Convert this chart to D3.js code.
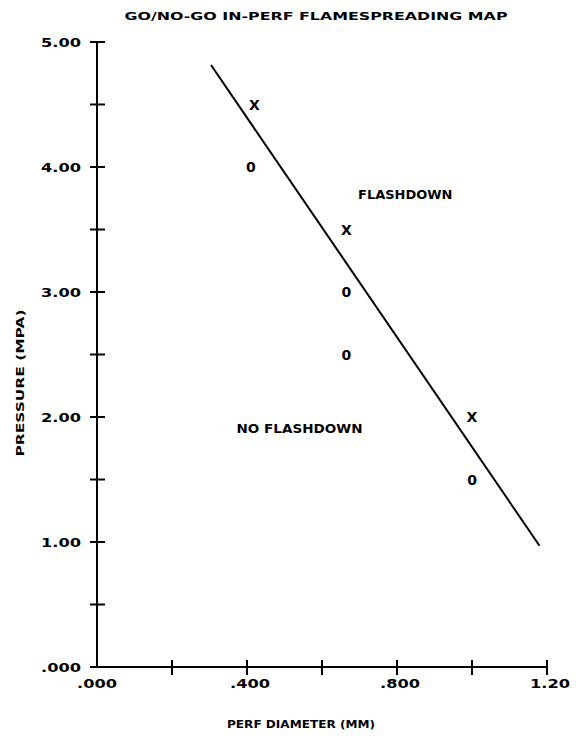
<!DOCTYPE html>
<html><head><meta charset="utf-8">
<script src="https://cdn.jsdelivr.net/npm/d3@7"></script>
<style>body{margin:0;background:#fff}svg{display:block}text{font-family:"DejaVu Sans",sans-serif;font-weight:bold;fill:#000}</style>
</head><body>
<script>
const title = "GO/NO-GO IN-PERF FLAMESPREADING MAP";
const xTitle = "PERF DIAMETER (MM)";
const yTitle = "PRESSURE (MPA)";
const xTicks = [0, 0.2, 0.4, 0.6, 0.8, 1.0, 1.2];
const xTickLabels = [".000", "", ".400", "", ".800", "", "1.20"];
const yTicks = [0, 0.5, 1, 1.5, 2, 2.5, 3, 3.5, 4, 4.5, 5];
const yTickLabels = [".000", "", "1.00", "", "2.00", "", "3.00", "", "4.00", "", "5.00"];
const flashX = [0.42, 0.665, 1.0];
const flashY = [4.5, 3.5, 2.0];
const noFlashX = [0.41, 0.665, 0.665, 1.0];
const noFlashY = [4.0, 3.0, 2.5, 1.5];
const boundaryX = [0.304, 1.18];
const boundaryY = [4.816, 0.97];
const regionLabels = [{t: "FLASHDOWN", x: 0.822, y: 3.78}, {t: "NO FLASHDOWN", x: 0.54, y: 1.912}];

const W = 579, H = 736;
const svg = d3.select("body").append("svg").attr("width", W).attr("height", H);
const x = d3.scaleLinear().domain([0, 1.2]).range([97, 547]);
const y = d3.scaleLinear().domain([0, 5]).range([667, 42]);

// axes lines
svg.append("line").attr("x1", x(0)).attr("x2", x(0)).attr("y1", y(5)).attr("y2", y(0)).attr("stroke", "#000").attr("stroke-width", 2);
svg.append("line").attr("x1", x(0)).attr("x2", x(1.2)).attr("y1", y(0)).attr("y2", y(0)).attr("stroke", "#000").attr("stroke-width", 2);

// y ticks
yTicks.forEach((v, i) => {
  svg.append("line").attr("x1", x(0) - 7).attr("x2", x(0) + 8).attr("y1", y(v)).attr("y2", y(v)).attr("stroke", "#000").attr("stroke-width", 2);
  if (yTickLabels[i]) svg.append("text").attr("x", 81).attr("y", y(v) + 4.5).attr("text-anchor", "end")
    .attr("font-size", 12).attr("textLength", 40).attr("lengthAdjust", "spacingAndGlyphs").text(yTickLabels[i]);
});
// x ticks
xTicks.forEach((v, i) => {
  if (i > 0) svg.append("line").attr("x1", x(v)).attr("x2", x(v)).attr("y1", y(0) - 7).attr("y2", y(0) + 8).attr("stroke", "#000").attr("stroke-width", 2);
  if (xTickLabels[i]) svg.append("text").attr("x", x(v) + (i === 0 ? 0 : 3)).attr("y", 688).attr("text-anchor", "middle")
    .attr("font-size", 12).attr("font-weight", "normal").attr("textLength", 40).attr("lengthAdjust", "spacingAndGlyphs").text(xTickLabels[i]);
});

// titles
svg.append("text").attr("x", 316).attr("y", 20).attr("text-anchor", "middle").attr("font-size", 11)
  .attr("textLength", 383).attr("lengthAdjust", "spacingAndGlyphs").text(title);
svg.append("text").attr("x", 301).attr("y", 728).attr("text-anchor", "middle").attr("font-size", 11).attr("font-weight", "normal")
  .attr("textLength", 148).attr("lengthAdjust", "spacingAndGlyphs").text(xTitle);
svg.append("text").attr("transform", "translate(24,383) rotate(-90)").attr("text-anchor", "middle").attr("font-size", 11)
  .attr("textLength", 147).attr("lengthAdjust", "spacingAndGlyphs").text(yTitle);

// boundary line
svg.append("path").attr("d", d3.line().x(d => x(d[0])).y(d => y(d[1]))(boundaryX.map((v, i) => [v, boundaryY[i]])))
  .attr("fill", "none").attr("stroke", "#000").attr("stroke-width", 2);

// markers
flashX.forEach((v, i) => svg.append("text").attr("x", x(v)).attr("y", y(flashY[i]) + 5).attr("text-anchor", "middle").attr("font-size", 14).text("X"));
noFlashX.forEach((v, i) => svg.append("text").attr("x", x(v)).attr("y", y(noFlashY[i]) + 5).attr("text-anchor", "middle").attr("font-size", 14).text("0"));

// region labels
regionLabels.forEach(r => svg.append("text").attr("x", x(r.x)).attr("y", y(r.y) + 4.5).attr("text-anchor", "middle")
  .attr("font-size", 12).attr("textLength", r.t.length * 10.5).attr("lengthAdjust", "spacingAndGlyphs").text(r.t));
</script>
</body></html>
